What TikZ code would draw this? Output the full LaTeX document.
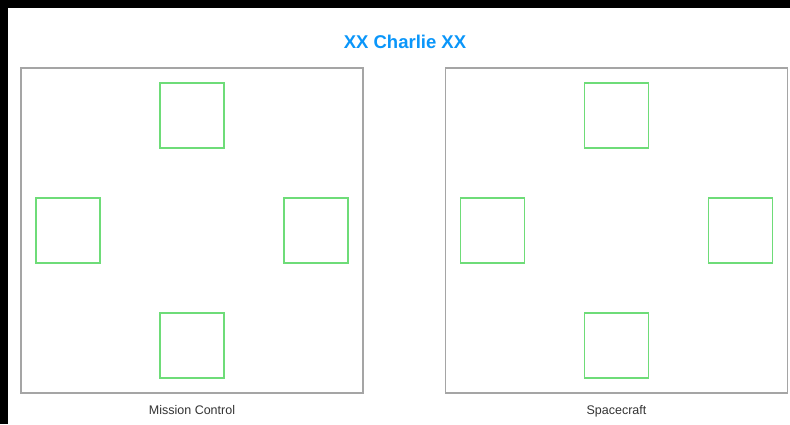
\documentclass[tikz,border=0pt]{standalone}
\usepackage{fontspec}
\setmainfont{Liberation Sans}
\usetikzlibrary{positioning}
\definecolor{titleblue}{RGB}{10,150,250}
\definecolor{framegray}{RGB}{165,165,165}
\definecolor{slotgreen}{RGB}{110,220,120}
\begin{document}
\begin{tikzpicture}[
                x=1pt, y=-1pt,
                panel/.style={draw=framegray,line width=1.3pt,minimum width=342pt,minimum height=325pt,inner sep=0pt},
                slot/.style={draw=slotgreen,line width=1.4pt,minimum width=64pt,minimum height=65pt,inner sep=0pt},
                caption/.style={font=\fontsize{12.5}{14}\selectfont,text=black!80,inner sep=0pt}
            ]

            \useasboundingbox (0,0) rectangle (790,424);
            \fill[white] (0,0) rectangle (790,424);
            \fill[black] (0,0) rectangle (790,8);
            \fill[black] (0,0) rectangle (8,424);

            \node[font=\bfseries\fontsize{18.5}{21}\selectfont,text=titleblue] (title) at (405,42) {XX Charlie XX};

            % mission control
            \node[panel] (mc) at (192,230.5) {};
            \node[slot] (mcTop) at ([yshift=-115pt]mc.center) {};
            \node[slot] (mcLeft) at ([xshift=-124pt]mc.center) {};
            \node[slot] (mcRight) at ([xshift=124pt]mc.center) {};
            \node[slot] (mcBottom) at ([yshift=115pt]mc.center) {};
            \node[caption,below=12pt of mc] (mcName) {Mission Control};

            % spacecraft
            \node[panel] (sc) at (616.5,230.5) {};
            \node[slot] (scTop) at ([yshift=-115pt]sc.center) {};
            \node[slot] (scLeft) at ([xshift=-124pt]sc.center) {};
            \node[slot] (scRight) at ([xshift=124pt]sc.center) {};
            \node[slot] (scBottom) at ([yshift=115pt]sc.center) {};
            \node[caption,below=12pt of sc] (scName) {Spacecraft};

        \end{tikzpicture}
\end{document}
